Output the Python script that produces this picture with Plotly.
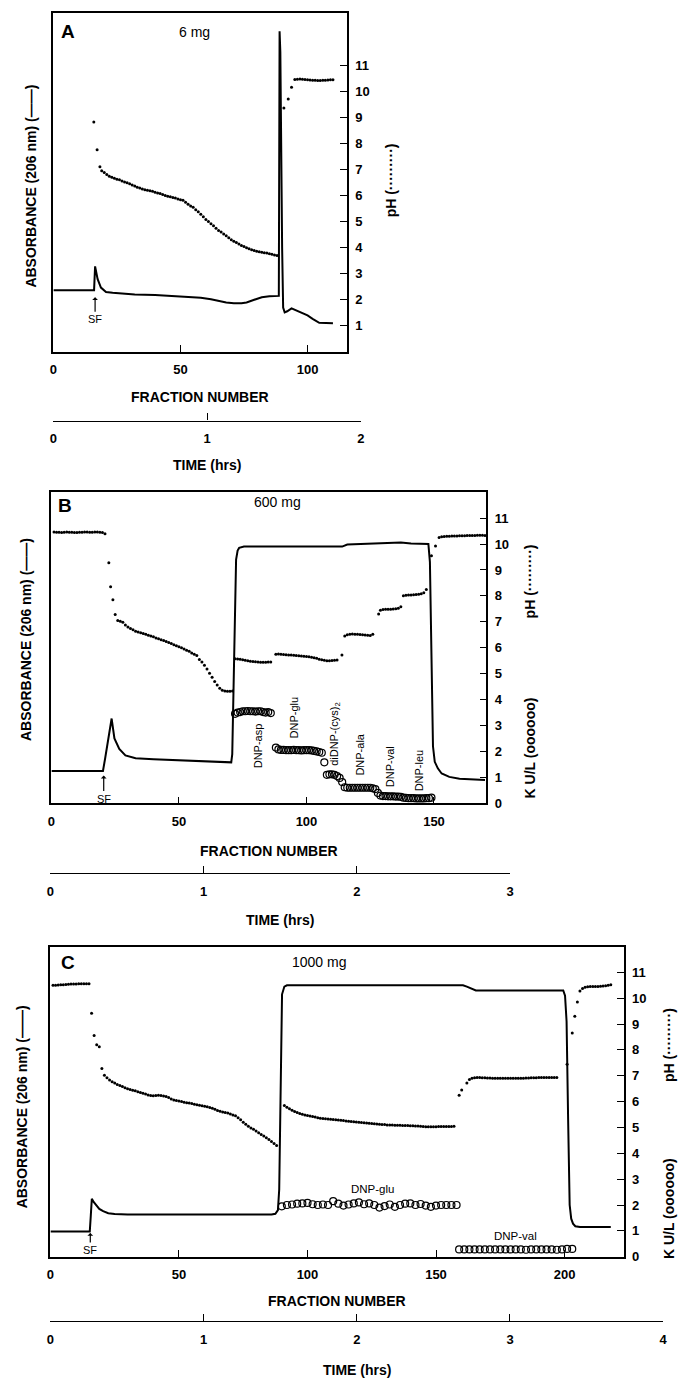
import plotly.graph_objects as go

# ---------------- DATA ----------------
# Panel A (6 mg)
a_abs_frac = [0, 16.0, 16.4, 17.4, 18.7, 20.7, 23.3, 27, 32, 40,
              45, 52, 58, 62, 64.6, 68, 71, 74, 76, 78,
              80, 82, 85, 88.7, 89.0, 89.3, 90.0, 90.4, 91, 92,
              93.7, 95, 97, 100, 102, 104.6, 110]
a_abs = [2.37, 2.37, 3.28, 2.79, 2.47, 2.30, 2.27, 2.24, 2.20, 2.18,
         2.15, 2.12, 2.08, 2.02, 1.96, 1.90, 1.87, 1.87, 1.90, 1.97,
         2.06, 2.10, 2.14, 2.15, 12.3, 11.5, 4.0, 1.70, 1.52, 1.56,
         1.67, 1.62, 1.52, 1.40, 1.27, 1.12, 1.10]

a_ph_frac = [15.9, 17.2, 18.3] + list(range(19, 89)) + [90.7, 92.4, 93.7] + list(range(95, 111))
a_ph = [8.82, 7.75, 7.10,
        6.95, 6.88, 6.80, 6.74, 6.70, 6.66, 6.62,
        6.60, 6.56, 6.52, 6.49, 6.45, 6.40, 6.36, 6.32, 6.29, 6.25,
        6.22, 6.20, 6.18, 6.16, 6.12, 6.10, 6.08, 6.04, 6.00, 5.97,
        5.95, 5.92, 5.90, 5.87, 5.84, 5.82, 5.74, 5.66, 5.60, 5.55,
        5.45, 5.38, 5.28, 5.18, 5.08, 5.00, 4.92, 4.84, 4.74, 4.66,
        4.60, 4.52, 4.46, 4.38, 4.30, 4.25, 4.20, 4.14, 4.08, 4.04,
        4.00, 3.96, 3.92, 3.89, 3.86, 3.84, 3.82, 3.80, 3.79, 3.77,
        3.75, 3.72, 3.70,
        9.35, 9.70, 10.15,
        10.45, 10.46, 10.47, 10.46, 10.45, 10.44, 10.43, 10.42, 10.42, 10.41,
        10.41, 10.42, 10.42, 10.43, 10.44, 10.44]

# Panel B (600 mg)
b_abs_frac = [0, 20.2, 21, 22, 23, 23.6, 24.7, 26.6, 29, 33,
              40, 50, 60, 70.5, 70.9, 71.2, 71.8, 72.4, 73.0, 73.6,
              75.5, 85, 100, 112, 114, 116, 120, 125, 130, 137,
              141, 145, 147.8, 148.4, 149.0, 149.6, 150.3, 151.5, 153, 156,
              160, 165, 170]
b_abs = [1.25, 1.25, 1.70, 2.30, 2.95, 3.27, 2.50, 2.10, 1.85, 1.74,
         1.70, 1.67, 1.63, 1.58, 1.90, 3.20, 7.00, 9.40, 9.75, 9.85,
         9.90, 9.90, 9.88, 9.88, 9.90, 9.98, 10.00, 10.02, 10.05, 10.06,
         10.02, 10.00, 10.00, 9.30, 5.00, 2.20, 1.60, 1.35, 1.15, 1.02,
         0.95, 0.92, 0.90]

b_ph_frac = (list(range(1, 22)) + [22.5, 23.2, 24.1, 25.0] + list(range(26, 72))
             + list(range(72, 87)) + list(range(88, 113)) + [113.9]
             + list(range(115, 127)) + [128.3] + list(range(129, 138))
             + list(range(138, 148)) + [149, 150.6, 152] + list(range(153, 171)))
b_ph = ([10.46, 10.45, 10.45, 10.44, 10.45, 10.46, 10.45, 10.45, 10.44, 10.44,
         10.45, 10.45, 10.46, 10.46, 10.45, 10.45, 10.46, 10.46, 10.45, 10.44, 10.40]
        + [9.28, 8.35, 7.85, 7.28]
        + [7.05, 7.02, 6.98, 6.88, 6.80, 6.74, 6.69, 6.64, 6.61, 6.58,
           6.55, 6.52, 6.48, 6.45, 6.42, 6.38, 6.35, 6.31, 6.28, 6.24,
           6.20, 6.16, 6.12, 6.08, 6.04, 6.00, 5.95, 5.90, 5.86, 5.80,
           5.75, 5.70, 5.55, 5.45, 5.32, 5.18, 5.02, 4.86, 4.70, 4.56,
           4.44, 4.36, 4.33, 4.32, 4.32, 4.33]
        + [5.58, 5.57, 5.56, 5.54, 5.52, 5.50, 5.48, 5.47, 5.46, 5.45,
           5.44, 5.44, 5.44, 5.45, 5.45]
        + [5.75, 5.76, 5.75, 5.74, 5.73, 5.72, 5.72, 5.71, 5.70, 5.69,
           5.68, 5.67, 5.66, 5.65, 5.63, 5.61, 5.59, 5.56, 5.54, 5.52,
           5.50, 5.50, 5.51, 5.52, 5.53]
        + [5.72]
        + [6.45, 6.50, 6.52, 6.53, 6.52, 6.52, 6.51, 6.50, 6.49, 6.48, 6.47, 6.52]
        + [7.30]
        + [7.45, 7.47, 7.48, 7.48, 7.48, 7.49, 7.50, 7.52, 7.58]
        + [8.00, 8.02, 8.03, 8.03, 8.04, 8.05, 8.06, 8.08, 8.12, 8.25]
        + [9.55, 9.92, 10.25]
        + [10.28, 10.29, 10.30, 10.30, 10.31, 10.31, 10.31, 10.32, 10.32, 10.32,
           10.33, 10.33, 10.33, 10.33, 10.34, 10.34, 10.34, 10.33])

b_ku_frac = (list(range(72, 87)) + list(range(88, 107)) + [107] + list(range(108, 114))
             + [114] + list(range(115, 127)) + [127, 128] + list(range(129, 150)))
b_ku = ([3.45, 3.50, 3.52, 3.55, 3.55, 3.56, 3.55, 3.55, 3.54, 3.55, 3.55, 3.52, 3.50, 3.52, 3.48]
        + [2.15, 2.08, 2.06, 2.06, 2.05, 2.05, 2.05, 2.06, 2.05, 2.05,
           2.04, 2.05, 2.05, 2.05, 2.04, 2.02, 2.00, 1.98, 1.95]
        + [1.58]
        + [1.10, 1.12, 1.12, 1.10, 1.05, 0.98]
        + [0.82]
        + [0.62, 0.60, 0.60, 0.60, 0.60, 0.60, 0.60, 0.60, 0.60, 0.60, 0.60, 0.58]
        + [0.55, 0.40]
        + [0.30, 0.28, 0.28, 0.27, 0.27, 0.27, 0.26, 0.26, 0.25, 0.22,
           0.21, 0.20, 0.20, 0.20, 0.19, 0.19, 0.19, 0.19, 0.20, 0.20, 0.22])
b_labels = ["DNP-asp", "DNP-glu", "diDNP-(cys)<sub>2</sub>", "DNP-ala", "DNP-val", "DNP-leu"]

# Panel C (1000 mg)
c_abs_frac = [0, 15.3, 15.7, 16.1, 16.8, 17.8, 19, 20.5, 22.5, 25,
              30, 40, 60, 80, 86, 87.5, 88.5, 89.0, 89.4, 90.1,
              91, 92, 100, 120, 140, 160.5, 162, 164, 165.5, 170,
              190, 199.5, 200.2, 200.8, 201.4, 202.0, 202.6, 203.3, 204.2, 206,
              210, 218]
c_abs = [0.98, 0.98, 1.60, 2.24, 2.12, 1.98, 1.85, 1.76, 1.68, 1.65,
         1.63, 1.63, 1.62, 1.62, 1.63, 1.66, 1.80, 2.60, 6.30, 10.15,
         10.45, 10.50, 10.50, 10.50, 10.50, 10.50, 10.45, 10.36, 10.30, 10.30,
         10.30, 10.30, 10.10, 9.10, 5.30, 2.00, 1.47, 1.28, 1.18, 1.15,
         1.15, 1.15]

c_ph_frac = (list(range(1, 21)) + list(range(21, 89)) + list(range(91, 158))
             + [159, 160, 162, 163] + list(range(164, 198))
             + [201, 203, 204, 205, 206] + list(range(207, 219)))
c_ph = ([10.50, 10.50, 10.51, 10.52, 10.52, 10.53, 10.54, 10.55, 10.55, 10.55,
         10.56, 10.56, 10.56, 10.56, 10.56]
        + [9.42, 8.56, 8.20, 8.12, 7.28]
        + [7.02, 6.92, 6.84, 6.77, 6.72, 6.66, 6.62, 6.58, 6.54, 6.50,
           6.47, 6.44, 6.42, 6.38, 6.35, 6.32, 6.29, 6.26, 6.24, 6.23,
           6.24, 6.25, 6.24, 6.22, 6.20, 6.16, 6.10, 6.06, 6.04, 6.02,
           6.00, 5.98, 5.96, 5.95, 5.93, 5.90, 5.88, 5.86, 5.84, 5.82,
           5.80, 5.77, 5.74, 5.70, 5.66, 5.63, 5.60, 5.58, 5.56, 5.52,
           5.48, 5.45, 5.38, 5.30, 5.20, 5.12, 5.05, 4.98, 4.93, 4.86,
           4.80, 4.73, 4.67, 4.60, 4.53, 4.46, 4.38, 4.30]
        + [5.85, 5.78, 5.72, 5.67, 5.62, 5.58, 5.54, 5.51, 5.48, 5.46,
           5.44, 5.42, 5.40, 5.38, 5.36, 5.35, 5.34, 5.33, 5.32, 5.31,
           5.30, 5.29, 5.28, 5.27, 5.25, 5.24, 5.23, 5.22, 5.21, 5.20,
           5.19, 5.18, 5.17, 5.16, 5.15, 5.14, 5.13, 5.12, 5.11, 5.11,
           5.10, 5.10, 5.10, 5.09, 5.09, 5.09, 5.08, 5.08, 5.08, 5.07,
           5.07, 5.06, 5.06, 5.05, 5.04, 5.03, 5.03, 5.03, 5.03, 5.03,
           5.04, 5.04, 5.04, 5.04, 5.04, 5.04, 5.05]
        + [6.25, 6.45, 6.72, 6.86]
        + [6.90, 6.92, 6.93, 6.93, 6.92, 6.92, 6.91, 6.91, 6.90, 6.90,
           6.90, 6.90, 6.90, 6.90, 6.90, 6.90, 6.90, 6.90, 6.90, 6.90,
           6.90, 6.91, 6.91, 6.92, 6.92, 6.92, 6.93, 6.93, 6.93, 6.93,
           6.93, 6.93, 6.93, 6.93]
        + [7.45, 8.65, 9.30, 9.85, 10.28]
        + [10.38, 10.42, 10.44, 10.45, 10.45, 10.45, 10.45, 10.46, 10.47, 10.48,
           10.50, 10.52])

c_ku_frac = list(range(90, 159, 2)) + list(range(159, 204, 2))
c_ku = ([1.95, 2.00, 2.02, 2.05, 2.06, 2.08, 2.03, 2.00, 2.02, 2.00,
         2.15, 2.05, 1.98, 2.02, 2.06, 2.10, 2.03, 2.06, 2.00, 1.90,
         1.96, 2.02, 1.93, 2.00, 2.05, 2.06, 2.00, 2.04, 1.98, 1.93,
         1.98, 2.00, 2.00, 2.00, 2.00]
        + [0.28, 0.28, 0.28, 0.28, 0.28, 0.28, 0.28, 0.28, 0.28, 0.28,
           0.28, 0.28, 0.28, 0.27, 0.28, 0.28, 0.28, 0.28, 0.28, 0.27,
           0.28, 0.30, 0.30])

for fx, fy in [(a_abs_frac, a_abs), (a_ph_frac, a_ph), (b_abs_frac, b_abs), (b_ph_frac, b_ph),
               (b_ku_frac, b_ku), (c_abs_frac, c_abs), (c_ph_frac, c_ph), (c_ku_frac, c_ku)]:
    assert len(fx) == len(fy), (len(fx), len(fy))

# ---------------- LAYOUT ----------------
W, H = 682, 1387
FONT = "Liberation Sans, Arial, Helvetica, sans-serif"


def PX(v):
    return v / W


def PY(v):
    return 1 - v / H


panels = [
    dict(x0=50, x1=347, top=13, bottom=354, xmax=115.5, ymax=13, yt=list(range(1, 12)), xt=[0, 50, 100]),
    dict(x0=48, x1=488, top=495, bottom=808, xmax=170.5, ymax=12, yt=list(range(0, 12)), xt=[0, 50, 100, 150]),
    dict(x0=47, x1=627, top=952, bottom=1264, xmax=223, ymax=12, yt=list(range(0, 12)), xt=[0, 50, 100, 150, 200]),
]
time_axes = [
    dict(x0=50, x1=361, y=423, hrs=2),
    dict(x0=47, x1=512, y=878, hrs=3),
    dict(x0=47, x1=667, y=1329, hrs=4),
]

fig = go.Figure()

line_style = dict(color="black", width=2)
dot_style = dict(size=3, color="black")
circ_style = dict(symbol="circle-open", size=7, color="black", line=dict(width=1.2, color="black"))

data_sets = [
    (a_abs_frac, a_abs, a_ph_frac, a_ph, None, None),
    (b_abs_frac, b_abs, b_ph_frac, b_ph, b_ku_frac, b_ku),
    (c_abs_frac, c_abs, c_ph_frac, c_ph, c_ku_frac, c_ku),
]
for i, (af, av, pf, pv, kf, kv) in enumerate(data_sets):
    xa = "x" if i == 0 else f"x{i + 1}"
    ya = "y" if i == 0 else f"y{i + 1}"
    fig.add_trace(go.Scatter(x=af, y=av, mode="lines", line=line_style, xaxis=xa, yaxis=ya,
                             showlegend=False, hoverinfo="skip"))
    fig.add_trace(go.Scatter(x=pf, y=pv, mode="markers", marker=dot_style, xaxis=xa, yaxis=ya,
                             showlegend=False, hoverinfo="skip", cliponaxis=False))
    if kf is not None:
        fig.add_trace(go.Scatter(x=kf, y=kv, mode="markers", marker=circ_style, xaxis=xa, yaxis=ya,
                                 showlegend=False, hoverinfo="skip", cliponaxis=False))

# invisible traces to realise the time axes
for j, t in enumerate(time_axes):
    n = j + 4
    fig.add_trace(go.Scatter(x=[0, t["hrs"]], y=[0, 0], mode="markers", marker=dict(opacity=0),
                             xaxis=f"x{n}", yaxis=f"y{n}", showlegend=False, hoverinfo="skip"))

tickfont = dict(family=FONT, size=13, color="black", weight="bold")
layout = dict(
    width=W, height=H, autosize=False,
    margin=dict(l=0, r=0, t=0, b=0),
    paper_bgcolor="white", plot_bgcolor="white",
    showlegend=False,
    font=dict(family=FONT, color="black"),
)

for i, p in enumerate(panels):
    xk = "xaxis" if i == 0 else f"xaxis{i + 1}"
    yk = "yaxis" if i == 0 else f"yaxis{i + 1}"
    ya = "y" if i == 0 else f"y{i + 1}"
    xa = "x" if i == 0 else f"x{i + 1}"
    layout[xk] = dict(
        domain=[PX(p["x0"]), PX(p["x1"])], anchor=ya, range=[0, p["xmax"]],
        showline=True, linecolor="black", linewidth=1.5, mirror=True,
        ticks="inside", ticklen=7, tickwidth=1.3, tickcolor="black",
        tickvals=p["xt"], ticktext=[str(v) for v in p["xt"]],
        tickfont=tickfont, ticklabelstandoff=5,
        showgrid=False, zeroline=False, fixedrange=True,
    )
    layout[yk] = dict(
        domain=[PY(p["bottom"]), PY(p["top"])], anchor=xa, range=[0, p["ymax"]],
        side="right", showline=True, linecolor="black", linewidth=1.5, mirror=True,
        ticks="inside", ticklen=7, tickwidth=1.3, tickcolor="black",
        tickvals=p["yt"], ticktext=[str(v) for v in p["yt"]],
        tickfont=tickfont, ticklabelstandoff=4,
        showgrid=False, zeroline=False, fixedrange=True,
    )

for j, t in enumerate(time_axes):
    n = j + 4
    layout[f"xaxis{n}"] = dict(
        domain=[PX(t["x0"]), PX(t["x1"])], anchor=f"y{n}", range=[0, t["hrs"]],
        showline=True, linecolor="black", linewidth=1.3,
        ticks="inside", ticklen=7, tickwidth=1.3, tickcolor="black",
        tickvals=list(range(0, t["hrs"] + 1)),
        tickfont=tickfont, ticklabelstandoff=6,
        showgrid=False, zeroline=False, fixedrange=True,
    )
    layout[f"yaxis{n}"] = dict(
        domain=[PY(t["y"]), PY(t["y"]) + 0.004], anchor=f"x{n}", range=[0, 1],
        visible=False, fixedrange=True,
    )

ann = []


def text(x, y, s, size=14, bold=False, angle=0):
    if bold:
        s = f"<b>{s}</b>"
    ann.append(dict(x=PX(x), y=PY(y), xref="paper", yref="paper", text=s, showarrow=False,
                    xanchor="center", yanchor="middle", textangle=angle,
                    font=dict(family=FONT, size=size, color="black")))


# panel letters and amounts
text(65, 32, "A", 19, bold=True)
text(193, 32, "6 mg", 14)
text(62, 508, "B", 19, bold=True)
text(277, 505, "600 mg", 14)
text(65, 968, "C", 19, bold=True)
text(319, 968, "1000 mg", 14)

# left axis titles
for xx, yy in [(27, 187), (23, 643), (18, 1113)]:
    text(xx, yy, "ABSORBANCE (206 nm) (——)", 14, bold=True, angle=-90)

# right axis titles
text(392, 181, "pH (·········)", 14, bold=True, angle=-90)
text(532, 585, "pH (·········)", 14, bold=True, angle=-90)
text(532, 752, "K U/L (oooooo)", 14, bold=True, angle=-90)
text(673, 1051, "pH (·········)", 14, bold=True, angle=-90)
text(673, 1216, "K U/L (oooooo)", 14, bold=True, angle=-90)

# bottom axis titles
for p, t, yf, yt in [(panels[0], time_axes[0], 399, 468),
                     (panels[1], time_axes[1], 856, 925),
                     (panels[2], time_axes[2], 1309, 1378)]:
    text((p["x0"] + p["x1"]) / 2, yf, "FRACTION NUMBER", 14, bold=True)
    text((t["x0"] + t["x1"]) / 2, yt, "TIME (hrs)", 14, bold=True)

# SF arrows (data coordinates)
for i, (fx, fy, ay) in enumerate([(16.4, 2.1, 22), (20.5, 1.07, 23), (15.5, 0.92, 17)]):
    xa = "x" if i == 0 else f"x{i + 1}"
    ya = "y" if i == 0 else f"y{i + 1}"
    ann.append(dict(x=fx, y=fy, xref=xa, yref=ya, text="SF", showarrow=True,
                    ax=0, ay=ay, arrowhead=1, arrowsize=0.8, arrowwidth=1.2, arrowcolor="black",
                    font=dict(family=FONT, size=11, color="black")))

# rotated peak labels in panel B
b_label_pos = [(81, 2.2), (95, 3.3), (111.2, 2.68), (121, 1.88), (132.6, 1.42), (144, 1.26)]
for s, (fx, fy) in zip(b_labels, b_label_pos):
    ann.append(dict(x=fx, y=fy, xref="x2", yref="y2", text=s, showarrow=False, textangle=-90,
                    xanchor="center", yanchor="middle",
                    font=dict(family=FONT, size=11, color="black")))

# peak labels in panel C
for s, (fx, fy) in zip(["DNP-glu", "DNP-val"], [(125.4, 2.6), (181, 0.8)]):
    ann.append(dict(x=fx, y=fy, xref="x3", yref="y3", text=s, showarrow=False,
                    xanchor="center", yanchor="middle",
                    font=dict(family=FONT, size=11.5, color="black")))

layout["annotations"] = ann
fig.update_layout(**layout)
fig.write_html("out.html")
